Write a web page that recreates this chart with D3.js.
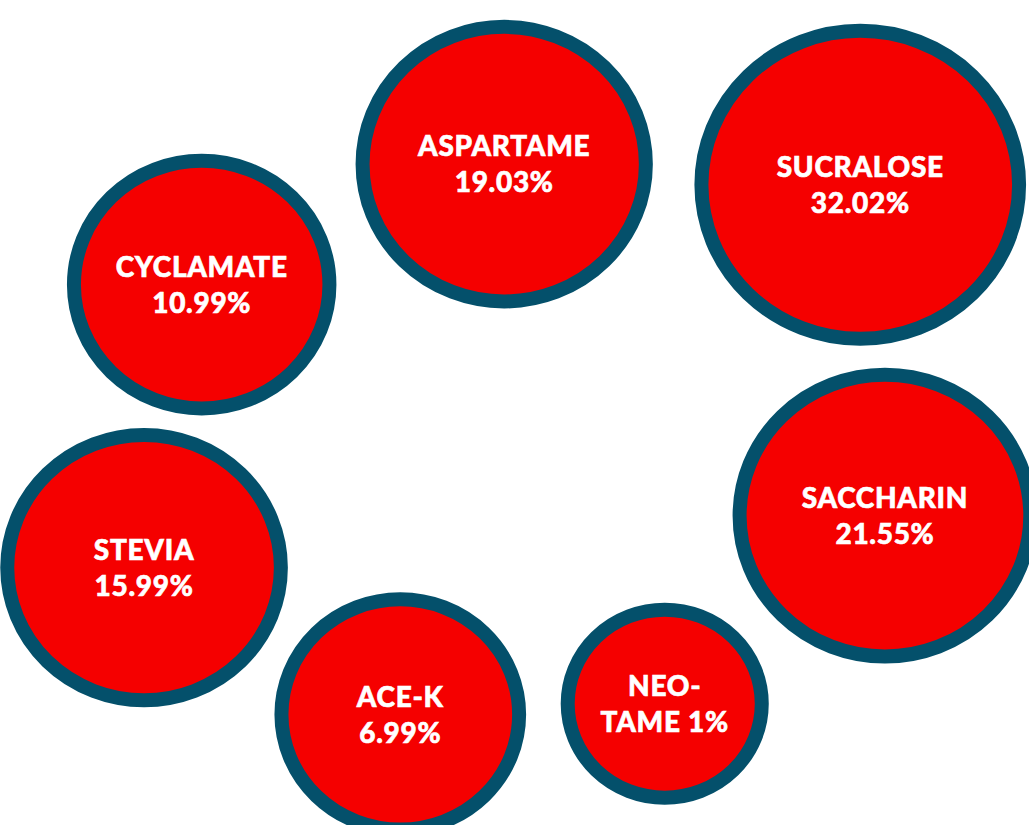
<!DOCTYPE html>
<html>
<head>
<meta charset="utf-8">
<script src="https://cdn.jsdelivr.net/npm/d3@7"></script>
<style>
   body { margin: 0; background: #ffffff; }
   svg { display: block; }
</style>
</head>
<body>
<div id="bubbles"></div>
<script>
//--------------------------------------------------------------
// DATA
//--------------------------------------------------------------
var sweeteners = ["ASPARTAME", "SUCRALOSE", "CYCLAMATE", "STEVIA", "ACE-K", "NEO-TAME", "SACCHARIN"];
var shares = [19.03, 32.02, 10.99, 15.99, 6.99, 1, 21.55];

// hand placed bubble slots, in percent of the drawing area
var slotX = [49.0, 83.6, 19.6, 14.0, 38.9, 64.6, 86.0];
var slotY = [19.9, 22.4, 34.5, 68.8, 86.6, 85.3, 62.5];
//--------------------------------------------------------------

//--------------------------------------------------------------
// SIZE / STYLE
//--------------------------------------------------------------
var width = 1029;
var height = 825;
var ring = 14;          // border thickness
var stretch = 1.03;     // picture is a little wider than tall
var fillColor = "#f50000";
var ringColor = "#04506b";
//--------------------------------------------------------------

var data = sweeteners.map((name, i) => ({
   name: name,
   value: shares[i],
   sx: slotX[i],
   sy: slotY[i]
}));

var xScale = d3.scaleLinear().domain([0, 100]).range([0, width]);
var yScale = d3.scaleLinear().domain([0, 100]).range([0, height]);
var rScale = d3.scaleSqrt()
   .domain([1, d3.max(shares)])
   .range([101, 161]);

var svg = d3.select("#bubbles").append("svg")
   .attr("width", width)
   .attr("height", height);

var bubbles = svg.selectAll("g.bubble")
   .data(data)
   .enter()
   .append("g")
   .classed("bubble", true)
   .attr("transform", d => `translate(${xScale(d.sx)}, ${yScale(d.sy)})`);

bubbles.append("ellipse")
   .attr("rx", d => rScale(d.value) * stretch - ring / 2)
   .attr("ry", d => rScale(d.value) - ring / 2)
   .attr("fill", fillColor)
   .attr("stroke", ringColor)
   .attr("stroke-width", ring);

// two lines of text; small bubbles break a hyphenated name
function labelLines(d) {
   var pct = `${d.value}%`;
   if (rScale(d.value) < 110 && d.name.indexOf("-") > 0) {
      var cut = d.name.indexOf("-") + 1;
      return [d.name.slice(0, cut), `${d.name.slice(cut)} ${pct}`];
   }
   return [d.name, pct];
}

var lineGap = 36;
bubbles.append("text")
   .attr("text-anchor", "middle")
   .attr("fill", "#ffffff")
   .attr("stroke", "#ffffff")
   .attr("stroke-width", 0.6)
   .attr("letter-spacing", 0.7)
   .attr("font-family", "Lato, 'Open Sans', sans-serif")
   .attr("font-weight", 900)
   .attr("font-size", 28)
   .selectAll("tspan")
   .data(d => labelLines(d))
   .enter()
   .append("tspan")
   .attr("x", 0)
   .attr("y", (t, i) => (i - 0.5) * lineGap)
   .attr("dy", "0.36em")
   .text(t => t);
</script>
</body>
</html>
